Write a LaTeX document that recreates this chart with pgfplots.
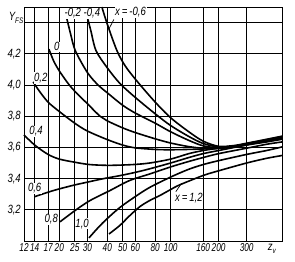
\documentclass[border=0pt]{standalone}
\usepackage{fontspec}
\setmainfont{Liberation Sans}
\newfontfamily\lab{Liberation Sans}[FakeStretch=0.8]
\newfontfamily\labn{Liberation Sans}[FakeStretch=0.72]
\usepackage{pgfplots}
\pgfplotsset{compat=1.18}
\tikzset{lbl/.style={font=\lab\itshape\fontsize{12}{12}\selectfont, fill=white, inner sep=0.6bp},
  crv/.style={black, mark=none, line width=1.6bp, smooth, tension=0.5}}
\begin{document}
\begin{tikzpicture}
\begin{axis}[
  scale only axis, width=258bp, height=234bp,
  xmode=log, xmin=12, xmax=500, ymin=3.0, ymax=4.5,
  xtick={12,14,17,20,25,30,40,50,60,80,100,160,200,300},
  xticklabels={12,14,17,20,25,30,40,50,60,80,100,160,200,300},
  minor xtick={}, minor ytick={},
  ytick={3.2,3.4,3.6,3.8,4.0,4.2,4.4},
  yticklabels={{3,2},{3,4},{3,6},{3,8},{4,0},{4,2},{}},
  grid=major, major grid style={black, line width=0.8bp},
  axis line style={black, line width=0.9bp},
  major tick length=0pt,
  /pgf/number format/assume math mode=true,
  xticklabel style={font=\labn\itshape\fontsize{11.5}{11.5}\selectfont, inner sep=1bp, yshift=-1.5bp},
  yticklabel style={font=\lab\itshape\fontsize{12}{12}\selectfont, inner sep=1bp, xshift=-2bp},
  clip=false,
]
% x = -0.6
\addplot[crv] coordinates {(37,4.50) (40,4.39) (46,4.22) (52,4.12) (62,4.02) (80,3.89) (100,3.79) (130,3.70) (160,3.64) (200,3.607) (250,3.612) (300,3.627) (400,3.652) (500,3.672)};
% x = -0.4
\addplot[crv] coordinates {(29.7,4.45) (31.5,4.35) (34,4.22) (40,4.11) (48,4.01) (60,3.92) (80,3.815) (100,3.74) (130,3.67) (160,3.625) (200,3.603) (250,3.608) (300,3.623) (400,3.648) (500,3.669)};
% x = -0.2
\addplot[crv] coordinates {(22,4.45) (23.5,4.33) (25.2,4.22) (30,4.08) (35,4.00) (40,3.95) (50,3.87) (60,3.82) (80,3.755) (100,3.70) (130,3.645) (160,3.61) (200,3.598) (250,3.605) (300,3.62) (400,3.645) (500,3.666)};
% x = 0
\addplot[crv] coordinates {(17.2,4.23) (18.5,4.15) (20,4.09) (22.7,4.01) (25,3.96) (30,3.88) (36,3.80) (40,3.77) (50,3.725) (60,3.695) (80,3.655) (100,3.628) (130,3.605) (160,3.595) (200,3.595) (250,3.603) (300,3.618) (400,3.643) (500,3.664)};
% x = 0.2
\addplot[crv] coordinates {(13.7,4.02) (15,3.96) (17,3.89) (20,3.83) (25,3.755) (30,3.705) (40,3.65) (50,3.615) (60,3.597) (80,3.587) (100,3.585) (140,3.588) (200,3.594) (250,3.602) (300,3.617) (400,3.641) (500,3.662)};
% x = 0.4
\addplot[crv] coordinates {(12,3.68) (14,3.615) (17,3.555) (20,3.525) (25,3.505) (31,3.49) (41,3.485) (58,3.49) (74,3.50) (100,3.525) (130,3.56) (160,3.58) (200,3.595) (300,3.62) (400,3.64) (500,3.66)};
% x = 0.6
\addplot[crv] coordinates {(14,3.284) (18.3,3.323) (24,3.355) (29.6,3.376) (38,3.40) (48,3.419) (60,3.44) (74,3.463) (100,3.50) (130,3.535) (160,3.56) (200,3.58) (300,3.615) (400,3.635) (500,3.652)};
% x = 0.8
\addplot[crv] coordinates {(20.2,3.123) (25,3.194) (31,3.258) (41.5,3.323) (55,3.387) (74,3.43) (100,3.475) (130,3.51) (160,3.535) (200,3.56) (300,3.595) (400,3.62) (500,3.635)};
% x = 1.0
\addplot[crv] coordinates {(30.7,3.02) (35,3.085) (39.6,3.14) (48,3.215) (60,3.285) (74,3.344) (100,3.41) (130,3.46) (160,3.49) (200,3.515) (300,3.555) (400,3.58) (500,3.603)};
% x = 1.2
\addplot[crv] coordinates {(41,3.045) (48,3.10) (55,3.16) (64,3.22) (74,3.26) (85,3.29) (100,3.33) (114,3.36) (160,3.42) (200,3.45) (300,3.50) (400,3.53) (500,3.548)};

\node[lbl] at (axis cs:24.3,4.458) {-0,2};
\node[lbl] at (axis cs:32.0,4.458) {-0,4};
\node[lbl] at (axis cs:56,4.465) {x\,=\,-0,6};
\draw[black, line width=0.7bp] (axis cs:44,4.42) -- (axis cs:41,4.36);
\node[lbl] at (axis cs:19.3,4.245) {0};
\node[lbl] at (axis cs:15.3,4.045) {0,2};
\node[lbl] at (axis cs:14.3,3.703) {0,4};
\node[lbl] at (axis cs:14.0,3.339) {0,6};
\node[lbl] at (axis cs:17.8,3.139) {0,8};
\node[lbl] at (axis cs:27.8,3.11) {1,0};
\node[lbl] at (axis cs:130,3.277) {x\,=\,1,2};
\draw[black, line width=0.7bp] (axis cs:107.7,3.316) -- (axis cs:117,3.37);
\node[font=\lab\itshape\fontsize{12}{12}\selectfont, anchor=east, inner sep=0.5bp] at (axis cs:12,4.43) {Y\raisebox{-0.4ex}{\fontsize{8}{8}\selectfont FS}};
\node[font=\lab\itshape\fontsize{12}{12}\selectfont, anchor=north, inner sep=0.5bp] at (axis cs:431,2.985) {z\raisebox{-0.5ex}{\fontsize{8}{8}\selectfont v}};
\coordinate (sw) at (rel axis cs:0,0);
\coordinate (ne) at (rel axis cs:1,1);
\end{axis}
\pgfresetboundingbox
\path ([shift={(-24bp,-21bp)}]sw) rectangle ([shift={(13bp,7bp)}]ne);
\end{tikzpicture}
\end{document}
